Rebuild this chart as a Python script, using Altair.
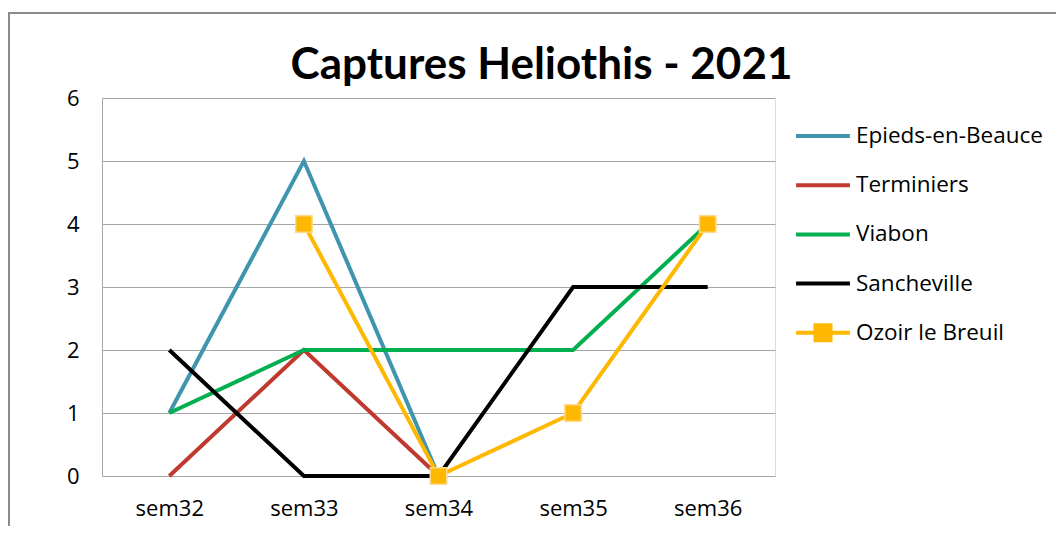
import altair as alt
import pandas as pd

weeks = ["sem32", "sem33", "sem34", "sem35", "sem36"]
series = ["Epieds-en-Beauce", "Terminiers", "Viabon", "Sancheville", "Ozoir le Breuil"]
colors = ["#3F95AD", "#C0392F", "#00B050", "#000000", "#FFB800"]
epieds = [1, 5, 0, None, None]
terminiers = [0, 2, 0, None, None]
viabon = [1, 2, 2, 2, 4]
sancheville = [2, 0, 0, 3, 3]
ozoir = [None, 4, 0, 1, 4]

values = [epieds, terminiers, viabon, sancheville, ozoir]
rows = []
for si, (name, vals) in enumerate(zip(series, values)):
    for w, v in zip(weeks, vals):
        if v is not None:
            rows.append({"week": w, "serie": name, "value": v, "order": si})
df = pd.DataFrame(rows)

FONT = "Open Sans, sans-serif"
TFONT = "Lato, sans-serif"
square_path = "M-1,0H-0.28M0.28,0H1M-0.28,-0.28H0.28V0.28H-0.28Z"

x = alt.X("week:N", sort=weeks, scale=alt.Scale(domain=weeks, paddingOuter=0.5, paddingInner=0),
          axis=alt.Axis(title=None, labelAngle=0, ticks=False, domain=False, grid=False,
                        labelFontSize=22, labelPadding=22, labelColor="#000000", labelFont=FONT))
y = alt.Y("value:Q", scale=alt.Scale(domain=[0, 6], nice=False),
          axis=alt.Axis(title=None, values=[0, 1, 2, 3, 4, 5, 6], ticks=False, domain=True,
                        domainColor="#A6A6A6", gridColor="#A6A6A6", gridWidth=1.2,
                        labelFontSize=22, labelPadding=23, labelColor="#000000", labelFont=FONT))

legend_kw = dict(title=None, orient="none", legendX=692, legendY=9,
                 labelFontSize=22.5, labelFont=FONT, labelColor="#000000",
                 symbolSize=2900, symbolStrokeWidth=4, rowPadding=8.2,
                 labelOffset=4, labelLimit=400)
color = alt.Color("serie:N", scale=alt.Scale(domain=series, range=colors),
                  legend=alt.Legend(**legend_kw))
shape = alt.Shape("serie:N", scale=alt.Scale(domain=series,
                  range=["stroke", "stroke", "stroke", "stroke", square_path]),
                  legend=alt.Legend(**legend_kw))

lines = alt.Chart(df).mark_line(strokeWidth=4, strokeCap="butt").encode(
    x=x, y=y, color=color, shape=shape, order="order:Q", detail="serie:N")

points = alt.Chart(df[df["serie"] == "Ozoir le Breuil"]).mark_point(
    shape="square", size=270, filled=True, opacity=1, stroke="#FFD98A", strokeWidth=1.5
).encode(x=x, y=y, color=alt.Color("serie:N", scale=alt.Scale(domain=series, range=colors), legend=None))

frame_top = alt.Chart(pd.DataFrame({"a": [0]})).mark_rule(color="#8C8C8C", strokeWidth=2).encode(
    x=alt.value(-94), x2=alt.value(960), y=alt.value(-85))
frame_left = alt.Chart(pd.DataFrame({"a": [0]})).mark_rule(color="#8C8C8C", strokeWidth=2).encode(
    x=alt.value(-93), y=alt.value(-86), y2=alt.value(440))

chart = alt.layer(frame_top, frame_left, lines, points).properties(
    width=673, height=378,
    title=alt.TitleParams("Captures Heliothis - 2021", font=TFONT, fontSize=44, fontWeight="bold",
                          color="#000000", anchor="middle", dx=103, dy=95, offset=18),
    autosize=alt.AutoSizeParams(type="none"),
    padding={"left": 94, "top": 90, "right": 281, "bottom": 50},
).configure_view(stroke=None).configure(background="white")

chart.save("out.html", embed_options={"renderer": "svg", "actions": False})
